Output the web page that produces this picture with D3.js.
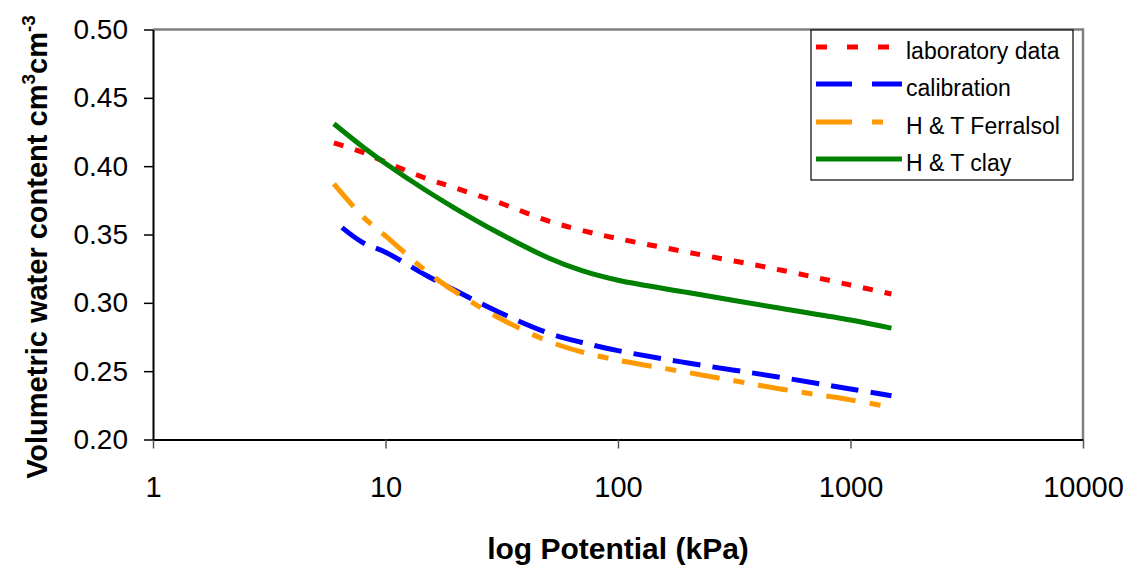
<!DOCTYPE html>
<html>
<head>
<meta charset="utf-8">
<script src="https://cdn.jsdelivr.net/npm/d3@7"></script>
<style>
  body { margin: 0; background: #fff; }
  svg { font-family: "Liberation Sans", Arial, sans-serif; }
</style>
</head>
<body>
<div id="svg-container"></div>
<script>
// data (kPa vs cm3/cm3)
const potential = [6, 8, 10, 15, 20, 30, 50, 70, 100, 200, 500, 1000, 1500];
const potentialCal = [6.5, 8, 10, 15, 20, 30, 50, 70, 100, 200, 500, 1000, 1500];
const labData = [0.417, 0.410, 0.403, 0.391, 0.384, 0.374, 0.360, 0.353, 0.347, 0.337, 0.324, 0.313, 0.3065];
const calibration = [0.355, 0.344, 0.337, 0.320, 0.309, 0.294, 0.278, 0.271, 0.265, 0.256, 0.2455, 0.237, 0.232];
const htFerralsol = [0.387, 0.363, 0.349, 0.323, 0.308, 0.290, 0.272, 0.264, 0.258, 0.249, 0.237, 0.229, 0.2235];
const htClay = [0.431, 0.414, 0.402, 0.382, 0.369, 0.352, 0.333, 0.3235, 0.3165, 0.3075, 0.296, 0.2875, 0.2815];

const xTicks = [1, 10, 100, 1000, 10000];
const yTicks = [0.2, 0.25, 0.3, 0.35, 0.4, 0.45, 0.5];

const seriesNames = ["laboratory data", "calibration", "H & T Ferralsol", "H & T clay"];

////////////////////////////  Init  ///////////////////////////////
const width = 1136;
const height = 569;
const plot = { left: 153, right: 1083, top: 29.5, bottom: 439.5 };

const svg = d3.select("#svg-container").append("svg")
  .attr("width", width).attr("height", height);

const xScale = d3.scaleLog().domain([1, 10000]).range([plot.left, plot.right]);
const yScale = d3.scaleLinear().domain([0.2, 0.5]).range([plot.bottom, plot.top]);

// series styles
const series = [
  { name: seriesNames[0], x: potential, y: labData, color: "#ff0000", dash: "10,12", legendDash: "11,20" },
  { name: seriesNames[1], x: potentialCal, y: calibration, color: "#0000ff", dash: "28,12", legendDash: "36,20" },
  { name: seriesNames[2], x: potential, y: htFerralsol, color: "#ff9900", dash: "30,14,11,14", legendDash: "36,20,11,20" },
  { name: seriesNames[3], x: potential, y: htClay, color: "#008000", dash: null, legendDash: null },
];

// plot border (top / right in grey)
svg.append("path")
  .attr("d", `M${plot.left},${plot.top}H${plot.right}V${plot.bottom}`)
  .attr("fill", "none")
  .attr("stroke", "#808080")
  .attr("stroke-width", 2.5);

//axis
const xAxis = d3.axisBottom(xScale)
  .tickValues(xTicks)
  .tickFormat(d3.format("d"))
  .tickSizeInner(9)
  .tickSizeOuter(0)
  .tickPadding(28);

const yAxis = d3.axisLeft(yScale)
  .tickValues(yTicks)
  .tickFormat(d3.format(".2f"))
  .tickSizeInner(9)
  .tickSizeOuter(0)
  .tickPadding(16);

svg.append("g")
  .attr("class", "x-axis")
  .attr("transform", `translate(0,${plot.bottom})`)
  .call(xAxis)
  .call((g) => g.select(".domain").attr("stroke", "#000").attr("stroke-width", 2))
  .call((g) => g.selectAll(".tick line").attr("stroke", "#555").attr("stroke-width", 1.5))
  .call((g) => g.selectAll(".tick text").attr("font-size", 29).attr("fill", "#000"));

svg.append("g")
  .attr("class", "y-axis")
  .attr("transform", `translate(${plot.left},0)`)
  .call(yAxis)
  .call((g) => g.select(".domain").attr("stroke", "#000").attr("stroke-width", 2))
  .call((g) => g.selectAll(".tick line").attr("stroke", "#000").attr("stroke-width", 1.5))
  .call((g) => g.selectAll(".tick text").attr("font-size", 28).attr("fill", "#000"));

// axis titles
svg.append("text")
  .attr("x", 618)
  .attr("y", 559)
  .attr("text-anchor", "middle")
  .attr("font-size", 30)
  .attr("font-weight", "bold")
  .text("log Potential (kPa)");

const yTitle = svg.append("text")
  .attr("transform", "translate(47,247) rotate(-90)")
  .attr("text-anchor", "middle")
  .attr("font-size", 29)
  .attr("font-weight", "bold");
yTitle.append("tspan").text("Volumetric water content cm");
yTitle.append("tspan").attr("dy", -12).attr("font-size", 19).text("3");
yTitle.append("tspan").attr("dy", 12).text("cm");
yTitle.append("tspan").attr("dy", -12).attr("font-size", 19).text("-3");

/////////////////////////////////////////////////////////////////// lines
const line = d3.line()
  .x((d) => xScale(d[0]))
  .y((d) => yScale(d[1]))
  .curve(d3.curveCatmullRom.alpha(0.5));

series.forEach((s) => {
  svg.append("path")
    .datum(s.x.map((v, i) => [v, s.y[i]]))
    .attr("fill", "none")
    .attr("stroke", s.color)
    .attr("stroke-width", 5)
    .attr("stroke-dasharray", s.dash)
    .attr("d", line);
});

/////////////////////////////////////////////////////////////////// legend
const legend = svg.append("g").attr("class", "legend");
legend.append("rect")
  .attr("x", 811).attr("y", 30)
  .attr("width", 262).attr("height", 150)
  .attr("fill", "#fff")
  .attr("stroke", "#000")
  .attr("stroke-width", 1.2);

const legendY = [47, 84, 122, 159];
series.forEach((s, i) => {
  legend.append("line")
    .attr("x1", 816).attr("x2", 902)
    .attr("y1", legendY[i]).attr("y2", legendY[i])
    .attr("stroke", s.color)
    .attr("stroke-width", 5)
    .attr("stroke-dasharray", s.legendDash);
  legend.append("text")
    .attr("x", 906)
    .attr("y", legendY[i] + 12)
    .attr("font-size", 23)
    .text(s.name);
});
</script>
</body>
</html>
